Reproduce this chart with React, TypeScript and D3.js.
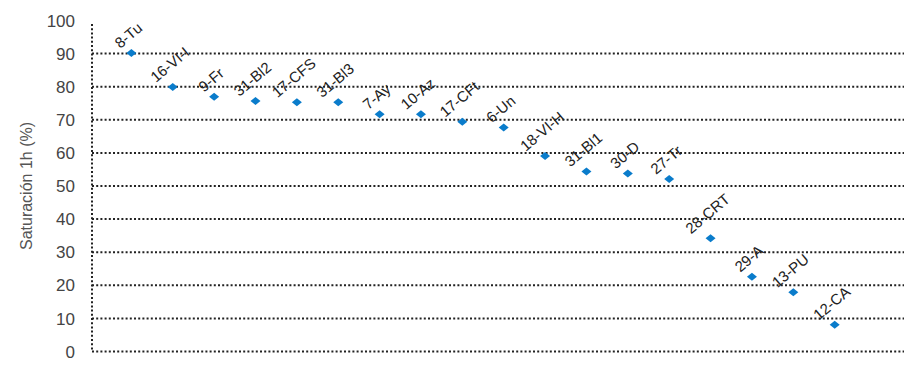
import React from "react";
import * as d3 from "d3";

const categories = ["8-Tu","16-VI-I","9-Fr","31-Bl2","17-CFS","31-Bl3","7-Ay","10-Az","17-CFt","6-Un","18-VI-H","31-Bl1","30-D","27-Tr","28-CRT","29-A","13-PU","12-CA"];
const saturation = [90.2, 79.9, 77.0, 75.7, 75.3, 75.3, 71.7, 71.7, 69.4, 67.7, 59.1, 54.4, 53.8, 52.1, 34.2, 22.6, 17.9, 8.1];
const yTicks = [0,10,20,30,40,50,60,70,80,90,100];
const gridTicks = [0,10,20,30,40,50,60,70,80,90];
const yTitle = "Saturación 1h (%)";

const W = 905, H = 373;
const FONT = "'Liberation Sans', Arial, Helvetica, sans-serif";

let ctx: CanvasRenderingContext2D | null = null;
function measure(t: string, size: number) {
  if (!ctx) ctx = document.createElement("canvas").getContext("2d");
  if (!ctx) return t.length * size * 0.55;
  ctx.font = `${size}px ${FONT}`;
  return ctx.measureText(t).width;
}

export default function App() {
  const x = d3.scaleLinear().domain([0, 19.7]).range([90, 905]);
  const y = d3.scaleLinear().domain([0, 100]).range([351.5, 20.5]);
  const axisX = 92;
  const diamond = (cx: number, cy: number) => `M${cx},${cy - 4}L${cx + 5},${cy}L${cx},${cy + 4}L${cx - 5},${cy}Z`;
  return (
    <svg width={W} height={H} style={{ position: "absolute", left: 0, top: 0, background: "#fff" }} fontFamily={FONT}>
      {gridTicks.map(t => (
        <line key={t} x1={axisX} x2={904} y1={y(t)} y2={y(t)} stroke="#222" strokeWidth={2} strokeDasharray="2 2.2" />
      ))}
      <line x1={axisX} x2={axisX} y1={24} y2={y(0)} stroke="#222" strokeWidth={2} strokeDasharray="2 2.2" />
      {yTicks.map(t => (
        <text key={t} x={75} y={y(t)} dy="0.36em" textAnchor="end" fontSize={17} fill="#444">{t}</text>
      ))}
      <text transform={`translate(32,186) rotate(-90)`} textAnchor="middle" fontSize={16} fill="#555">{yTitle}</text>
      {saturation.map((v, i) => (
        <path key={i} d={diamond(x(i + 1), y(v))} fill="#0a7ccb" />
      ))}
      {categories.map((c, i) => {
        const L = measure(c, 15);
        const cx = x(i + 1) - 3;
        const cy = y(saturation[i]) - (8 + 0.32 * L);
        return (
          <text key={c + i} transform={`translate(${cx},${cy}) rotate(-40)`} textAnchor="middle" dy="0.35em" fontSize={15} fill="#222">{c}</text>
        );
      })}
    </svg>
  );
}
